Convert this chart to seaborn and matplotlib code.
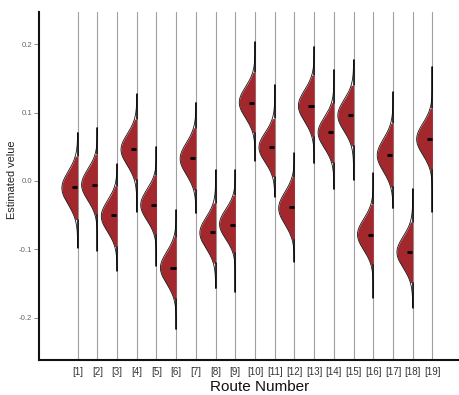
import numpy as np
import matplotlib
matplotlib.use("Agg")
import matplotlib.pyplot as plt
import seaborn as sns

# route labels and posterior summaries
routes = [f"[{i}]" for i in range(1, 20)]
means = [-0.009, -0.0058, -0.050, 0.0463, -0.0346, -0.1277, 0.0331, -0.0746, -0.0645, 0.1136,
         0.0493, -0.0385, 0.109, 0.0712, 0.096, -0.079, 0.0376, -0.1042, 0.0614]
ci_low = [-0.057, -0.050, -0.096, 0.001, -0.079, -0.1725, -0.013, -0.120, -0.1057, 0.0706,
          0.0063, -0.086, 0.0648, 0.0268, 0.0512, -0.1228, -0.0092, -0.1487, 0.016]
ci_high = [0.0365, 0.039, -0.007, 0.0906, 0.009, -0.0814, 0.078, -0.0317, -0.0205, 0.159,
           0.0917, 0.0063, 0.155, 0.1145, 0.1404, -0.0336, 0.0843, -0.0595, 0.1063]
tail_low = [-0.0975, -0.102, -0.131, -0.045, -0.124, -0.2168, -0.047, -0.157, -0.1627, 0.0297,
            -0.023, -0.118, 0.0259, -0.012, 0.0015, -0.1706, -0.040, -0.185, -0.045]
tail_high = [0.0706, 0.078, 0.0244, 0.1267, 0.050, -0.0424, 0.1145, 0.016, 0.016, 0.203,
             0.1404, 0.0405, 0.1963, 0.1623, 0.1769, 0.011, 0.1297, -0.0117, 0.167]

sns.set_theme(style="white")
plt.rcParams['font.family'] = ['Liberation Sans', 'DejaVu Sans']

fig = plt.figure(figsize=(4.59, 3.95), dpi=100)
ax = fig.add_axes([39 / 459, 35 / 395, 420 / 459, 347.7 / 395])

fill_col = "#a3282e"
half_width = 0.8

for i, name in enumerate(routes):
    # grey guide line at each route
    ax.axvline(i, color="#a0a0a0", lw=0.8, zorder=1)

    mu = (ci_low[i] + ci_high[i]) / 2
    sd = (ci_high[i] - ci_low[i]) / 3.92
    yy = np.linspace(tail_low[i], tail_high[i], 300)
    w = half_width * np.exp(-0.5 * ((yy - mu) / sd) ** 2)

    inside = (yy >= ci_low[i]) & (yy <= ci_high[i])
    ax.fill_betweenx(yy[inside], i - w[inside], i, color=fill_col, lw=0, zorder=2)
    ax.plot(i - w, yy, color="#111111", lw=0.6, zorder=3)

    # black tails outside the interval
    ax.plot([i, i], [tail_low[i], ci_low[i]], color="black", lw=1.1, zorder=3)
    ax.plot([i, i], [ci_high[i], tail_high[i]], color="black", lw=1.1, zorder=3)

    # mean dash
    ax.plot([i - 0.29, i - 0.03], [means[i], means[i]], color="black", lw=2.0,
            solid_capstyle="butt", zorder=4)

ax.set_xlim(-1.96, 19.35)
ax.set_ylim(-0.2617, 0.2466)
ax.set_xticks(range(len(routes)))
ax.set_xticklabels(routes)
ax.set_yticks([-0.2, -0.1, 0.0, 0.1, 0.2])
ax.set_yticklabels(["-0.2", "-0.1", "0.0", "0.1", "0.2"])

ax.tick_params(axis="x", length=0, pad=5, labelsize=7.0, labelcolor="#333333")
ax.tick_params(axis="y", length=3.5, width=0.6, color="#777777", pad=1.5,
               labelsize=5.6, labelcolor="#666666", left=True)

ax.set_xlabel("Route Number", fontsize=11, color="#111111")
ax.set_ylabel("Estimated velue", fontsize=7.9, color="#222222")
ax.xaxis.set_label_coords(0.526, -0.058)
ax.yaxis.set_label_coords(-0.052, 0.518)

sns.despine(ax=ax)
for side in ["left", "bottom"]:
    ax.spines[side].set_color("#111111")
    ax.spines[side].set_linewidth(1.5)

fig.savefig("out.png", dpi=100)
